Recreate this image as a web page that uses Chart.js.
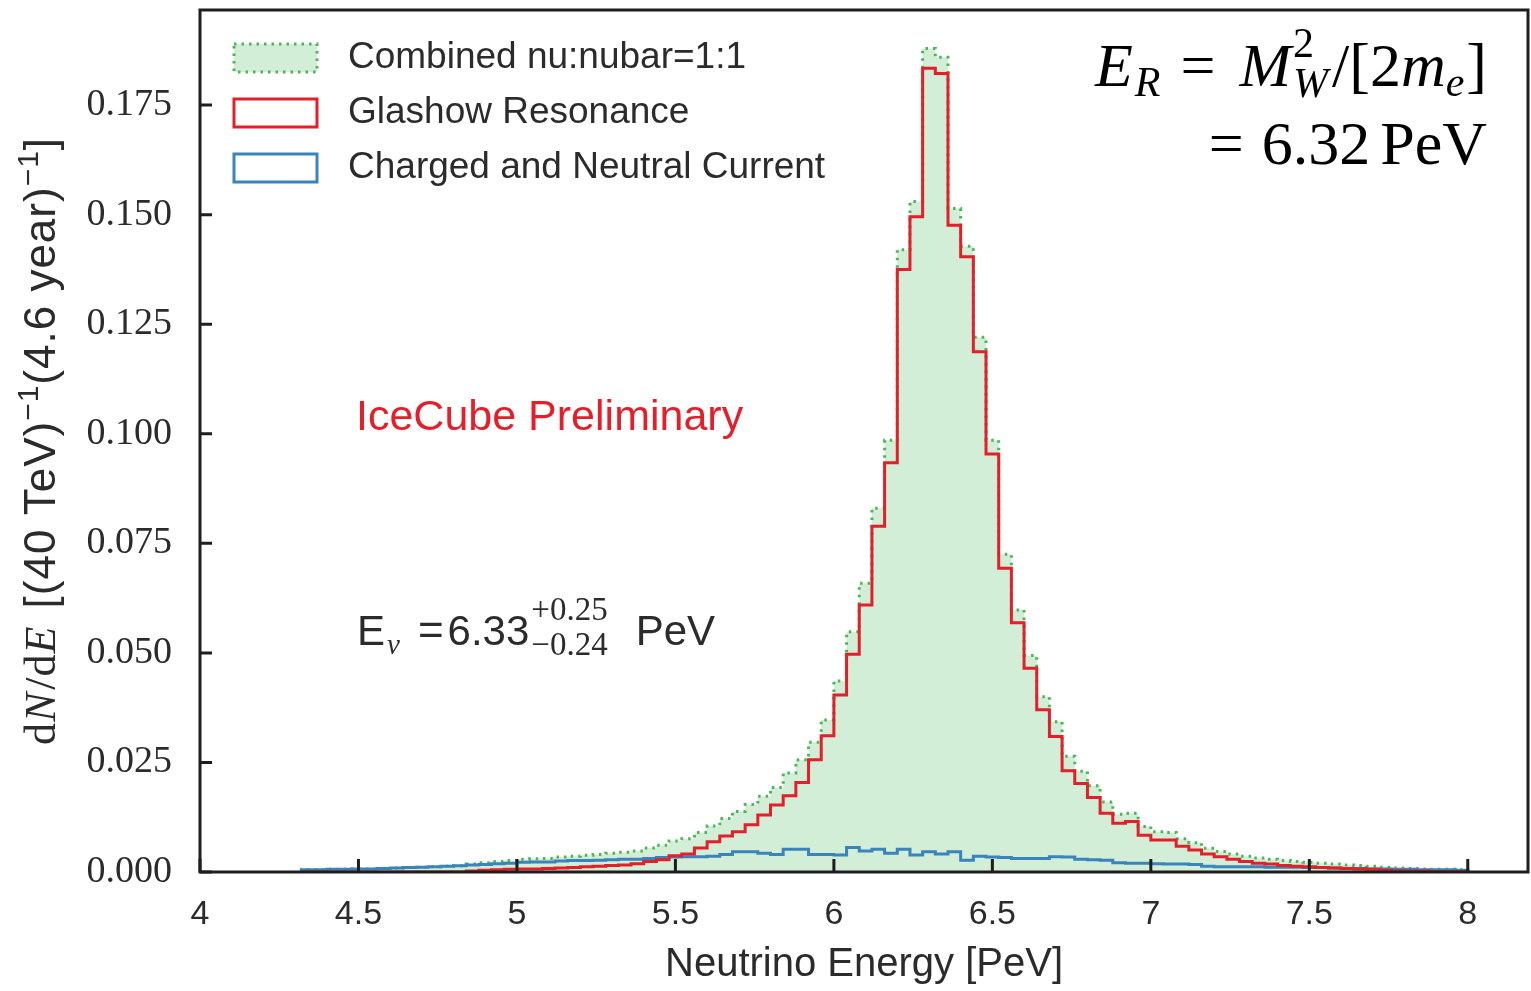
<!DOCTYPE html>
<html>
<head>
<meta charset="utf-8">
<script src="https://cdn.jsdelivr.net/npm/chart.js@4"></script>
<style>
  html, body { margin: 0; padding: 0; background: #ffffff; }
  #wrap { width: 1531px; height: 991px; }
</style>
</head>
<body>
<div id="wrap"><canvas id="c" width="1531" height="991"></canvas></div>
<script>
// ---------------- DATA ----------------
// histogram bin edges (PeV), 40 TeV bins
const binEdges = [
  4.32, 4.36, 4.40, 4.44, 4.48, 4.52, 4.56, 4.60, 4.64, 4.68,
  4.72, 4.76, 4.80, 4.84, 4.88, 4.92, 4.96, 5.00, 5.04, 5.08,
  5.12, 5.16, 5.20, 5.24, 5.28, 5.32, 5.36, 5.40, 5.44, 5.48,
  5.52, 5.56, 5.60, 5.64, 5.68, 5.72, 5.76, 5.80, 5.84, 5.88,
  5.92, 5.96, 6.00, 6.04, 6.08, 6.12, 6.16, 6.20, 6.24, 6.28,
  6.32, 6.36, 6.40, 6.44, 6.48, 6.52, 6.56, 6.60, 6.64, 6.68,
  6.72, 6.76, 6.80, 6.84, 6.88, 6.92, 6.96, 7.00, 7.04, 7.08,
  7.12, 7.16, 7.20, 7.24, 7.28, 7.32, 7.36, 7.40, 7.44, 7.48,
  7.52, 7.56, 7.60, 7.64, 7.68, 7.72, 7.76, 7.80, 7.84, 7.88,
  7.92, 7.96, 8.00
];

const combined = [
  0.0005, 0.0005, 0.0006, 0.0006, 0.0007, 0.0007, 0.0008, 0.0009, 0.0010, 0.0011,
  0.0012, 0.0013, 0.0014, 0.0018, 0.0021, 0.0024, 0.0026, 0.0029, 0.0030, 0.0031,
  0.0034, 0.0036, 0.0038, 0.0040, 0.0043, 0.0045, 0.0048, 0.0055, 0.0061, 0.0071,
  0.0076, 0.0090, 0.0105, 0.0122, 0.0138, 0.0154, 0.0173, 0.0193, 0.0226, 0.0256,
  0.0296, 0.0347, 0.0436, 0.0548, 0.0659, 0.0830, 0.0985, 0.1420, 0.1530, 0.1879,
  0.1859, 0.1514, 0.1428, 0.1220, 0.0985, 0.0725, 0.0598, 0.0494, 0.0400, 0.0343,
  0.0264, 0.0230, 0.0197, 0.0160, 0.0132, 0.0134, 0.0104, 0.0092, 0.0090, 0.0076,
  0.0067, 0.0054, 0.0047, 0.0041, 0.0036, 0.0032, 0.0029, 0.0026, 0.0024, 0.0022,
  0.0020, 0.0018, 0.0016, 0.0015, 0.0013, 0.0011, 0.0009, 0.0008, 0.0007, 0.0006,
  0.0006, 0.0005
];

const glashow = [
  0, 0, 0, 0, 0, 0, 0, 0, 0, 0,
  0, 0, 0, 0.0002, 0.0004, 0.0005, 0.0006, 0.0007, 0.0007, 0.0008,
  0.0009, 0.0010, 0.0012, 0.0013, 0.0015, 0.0016, 0.0019, 0.0024, 0.0028, 0.0037,
  0.0041, 0.0055, 0.0069, 0.0082, 0.0092, 0.0108, 0.0130, 0.0153, 0.0174, 0.0204,
  0.0256, 0.0311, 0.0404, 0.0497, 0.0609, 0.0789, 0.0934, 0.1375, 0.1495, 0.1834,
  0.1822, 0.1476, 0.1404, 0.1187, 0.0954, 0.0693, 0.0569, 0.0465, 0.0370, 0.0309,
  0.0231, 0.0202, 0.0170, 0.0134, 0.0111, 0.0115, 0.0084, 0.0073, 0.0073, 0.0059,
  0.0050, 0.0041, 0.0035, 0.0029, 0.0024, 0.0020, 0.0018, 0.0015, 0.0013, 0.0012,
  0.0010, 0.0009, 0.0008, 0.0007, 0.0006, 0.0004, 0.0003, 0.0002, 0.0002, 0.0001,
  0.0001, 0.0001
];

const chargedNeutral = [
  0.0005, 0.0005, 0.0006, 0.0006, 0.0007, 0.0007, 0.0008, 0.0009, 0.0010, 0.0011,
  0.0012, 0.0013, 0.0014, 0.0016, 0.0017, 0.0019, 0.0020, 0.0022, 0.0023, 0.0023,
  0.0025, 0.0026, 0.0026, 0.0027, 0.0028, 0.0029, 0.0029, 0.0031, 0.0033, 0.0034,
  0.0035, 0.0035, 0.0036, 0.0040, 0.0046, 0.0046, 0.0043, 0.0040, 0.0052, 0.0052,
  0.0040, 0.0040, 0.0039, 0.0056, 0.0048, 0.0052, 0.0043, 0.0052, 0.0039, 0.0046,
  0.0041, 0.0046, 0.0027, 0.0036, 0.0034, 0.0033, 0.0031, 0.0031, 0.0031, 0.0035,
  0.0034, 0.0029, 0.0028, 0.0027, 0.0021, 0.0020, 0.0020, 0.0019, 0.0018, 0.0018,
  0.0017, 0.0013, 0.0012, 0.0012, 0.0012, 0.0012, 0.0011, 0.0011, 0.0011, 0.0010,
  0.0010, 0.0009, 0.0008, 0.0008, 0.0007, 0.0007, 0.0006, 0.0006, 0.0005, 0.0005,
  0.0005, 0.0004
];

const seriesLabels = ['Combined nu:nubar=1:1', 'Glashow Resonance', 'Charged and Neutral Current'];

const xTickValues = [4, 4.5, 5, 5.5, 6, 6.5, 7, 7.5, 8];
const xTickLabels = ['4', '4.5', '5', '5.5', '6', '6.5', '7', '7.5', '8'];
const yTickValues = [0, 0.025, 0.05, 0.075, 0.1, 0.125, 0.15, 0.175];
const yTickLabels = ['0.000', '0.025', '0.050', '0.075', '0.100', '0.125', '0.150', '0.175'];

const xTitle = 'Neutrino Energy [PeV]';

// ---------------- STYLE ----------------
const GREEN_LINE = '#4cb556';
const GREEN_FILL = '#d3eed6';
const RED = '#e41f2a';
const BLUE = '#3a84bd';
const TEXT = '#2b2b2b';
const SANS = "'Liberation Sans', 'DejaVu Sans', sans-serif";
const SERIF = "'Liberation Serif', 'DejaVu Serif', serif";

// step-histogram points built from bin edges + bin values
function toSteps(values) {
  const pts = [{ x: binEdges[0], y: 0 }];
  values.forEach((v, i) => pts.push({ x: binEdges[i], y: v }));
  const n = values.length;
  pts.push({ x: binEdges[n], y: values[n - 1] });
  pts.push({ x: binEdges[n], y: 0 });
  return pts;
}

function labelFor(values, labels, v) {
  for (let i = 0; i < values.length; i++) if (Math.abs(values[i] - v) < 1e-9) return labels[i];
  return '';
}

function drawRuns(ctx, runs, x, baseline, align) {
  const widths = runs.map(r => {
    if (r.stack) {
      return Math.max(...r.stack.map(s => { ctx.font = s.font; return ctx.measureText(s.text).width; })) + (r.gap || 0);
    }
    ctx.font = r.font;
    return ctx.measureText(r.text).width + (r.gap || 0);
  });
  const total = widths.reduce((a, b) => a + b, 0);
  let cx = align === 'right' ? x - total : (align === 'center' ? x - total / 2 : x);
  ctx.textAlign = 'left';
  ctx.textBaseline = 'alphabetic';
  runs.forEach((r, i) => {
    if (r.stack) {
      r.stack.forEach(s => { ctx.font = s.font; ctx.fillText(s.text, cx, baseline + (s.dy || 0)); });
    } else {
      ctx.font = r.font;
      ctx.fillText(r.text, cx, baseline + (r.dy || 0));
    }
    cx += widths[i];
  });
}

const bgPlugin = {
  id: 'bg',
  beforeDraw(chart) {
    const ctx = chart.ctx;
    ctx.save();
    ctx.fillStyle = '#ffffff';
    ctx.fillRect(0, 0, chart.width, chart.height);
    ctx.restore();
  }
};

const framePlugin = {
  id: 'frame',
  afterDatasetsDraw(chart) {
    const ctx = chart.ctx;
    const { left, right, top, bottom } = chart.chartArea;
    const xs = chart.scales.x, ys = chart.scales.y;
    ctx.save();
    ctx.strokeStyle = '#1e1e1e';
    ctx.lineWidth = 3;
    ctx.setLineDash([]);
    ctx.strokeRect(left, top, right - left, bottom - top);
    ctx.beginPath();
    xTickValues.forEach(v => {
      const px = xs.getPixelForValue(v);
      ctx.moveTo(px, bottom);
      ctx.lineTo(px, bottom - 13);
    });
    yTickValues.forEach(v => {
      const py = ys.getPixelForValue(v);
      ctx.moveTo(left, py);
      ctx.lineTo(left + 12, py);
    });
    ctx.stroke();
    ctx.restore();
  }
};

const annotPlugin = {
  id: 'annot',
  afterDraw(chart) {
    const ctx = chart.ctx;
    const area = chart.chartArea;
    ctx.save();

    // legend
    const rows = [58, 113, 168];
    const patchX = 234, patchW = 83, patchH = 28, textX = 348;
    chart.data.datasets.forEach((ds) => {
      const cy = rows[ds.legendIndex];
      ctx.setLineDash([]);
      if (ds.fill) {
        ctx.fillStyle = GREEN_FILL;
        ctx.fillRect(patchX, cy - patchH / 2, patchW, patchH);
        ctx.setLineDash([2.5, 5]);
      }
      ctx.strokeStyle = ds.borderColor;
      ctx.lineWidth = 3;
      ctx.strokeRect(patchX, cy - patchH / 2, patchW, patchH);
      ctx.setLineDash([]);
      ctx.fillStyle = TEXT;
      ctx.font = '37px ' + SANS;
      ctx.textAlign = 'left';
      ctx.textBaseline = 'middle';
      ctx.fillText(ds.label, textX, cy);
    });

    // IceCube Preliminary
    ctx.fillStyle = RED;
    ctx.font = '43px ' + SANS;
    ctx.textAlign = 'left';
    ctx.textBaseline = 'middle';
    ctx.fillText('IceCube Preliminary', 356, 418);

    // E_nu = 6.33 +0.25 -0.24 PeV
    ctx.fillStyle = TEXT;
    drawRuns(ctx, [
      { text: 'E', font: '42px ' + SANS, gap: 2 },
      { text: '\u03BD', font: 'italic 29px ' + SERIF, dy: 9, gap: 18 },
      { text: '=', font: '44px ' + SANS, gap: 4 },
      { text: '6.33', font: '42px ' + SANS, gap: 2 },
      { stack: [
          { text: '+0.25', font: '33px ' + SERIF, dy: -25 },
          { text: '\u22120.24', font: '33px ' + SERIF, dy: 10 }
        ], gap: 28 },
      { text: 'PeV', font: '42px ' + SANS }
    ], 357, 645, 'left');

    // E_R = M_W^2/[2 m_e] = 6.32 PeV
    ctx.fillStyle = '#000000';
    const big = 62, small = 42;
    drawRuns(ctx, [
      { text: 'E', font: 'italic ' + big + 'px ' + SERIF, gap: 2 },
      { text: 'R', font: 'italic ' + small + 'px ' + SERIF, dy: 10, gap: 20 },
      { text: '=', font: big + 'px ' + SERIF, gap: 24 },
      { text: 'M', font: 'italic ' + big + 'px ' + SERIF, gap: 2 },
      { stack: [
          { text: '2', font: small + 'px ' + SERIF, dy: -29 },
          { text: 'W', font: 'italic ' + small + 'px ' + SERIF, dy: 11 }
        ], gap: 4 },
      { text: '/[2', font: big + 'px ' + SERIF },
      { text: 'm', font: 'italic ' + big + 'px ' + SERIF },
      { text: 'e', font: 'italic ' + small + 'px ' + SERIF, dy: 10, gap: 2 },
      { text: ']', font: big + 'px ' + SERIF }
    ], 1487, 86, 'right');
    drawRuns(ctx, [
      { text: '=', font: big + 'px ' + SERIF, gap: 18 },
      { text: '6.32', font: big + 'px ' + SERIF, gap: 10 },
      { text: 'PeV', font: big + 'px ' + SERIF }
    ], 1487, 164, 'right');

    // y-axis title: dN/dE [(40 TeV)^-1 (4.6 year)^-1]
    ctx.save();
    ctx.translate(40, (area.top + area.bottom) / 2);
    ctx.rotate(-Math.PI / 2);
    try { ctx.letterSpacing = '1px'; } catch (e) {}
    ctx.fillStyle = TEXT;
    drawRuns(ctx, [
      { text: 'd', font: '44px ' + SERIF },
      { text: 'N', font: 'italic 44px ' + SERIF, gap: 2 },
      { text: '/d', font: '44px ' + SERIF },
      { text: 'E', font: 'italic 44px ' + SERIF, gap: 4 },
      { text: ' [(40 TeV)', font: '44px ' + SANS },
      { text: '\u22121', font: '30px ' + SANS, dy: -17 },
      { text: '(4.6 year)', font: '44px ' + SANS },
      { text: '\u22121', font: '30px ' + SANS, dy: -17 },
      { text: ']', font: '44px ' + SANS }
    ], 0, 15, 'center');
    ctx.restore();

    ctx.restore();
  }
};

Chart.defaults.font.family = SANS;
Chart.defaults.color = TEXT;

new Chart(document.getElementById('c'), {
  type: 'line',
  data: {
    datasets: [
      {
        label: seriesLabels[1],
        legendIndex: 1,
        data: toSteps(glashow),
        stepped: 'before',
        borderColor: RED,
        borderWidth: 3,
        pointRadius: 0,
        fill: false,
        order: 0
      },
      {
        label: seriesLabels[2],
        legendIndex: 2,
        data: toSteps(chargedNeutral),
        stepped: 'before',
        borderColor: BLUE,
        borderWidth: 3,
        pointRadius: 0,
        fill: false,
        order: 1
      },
      {
        label: seriesLabels[0],
        legendIndex: 0,
        data: toSteps(combined),
        stepped: 'before',
        borderColor: GREEN_LINE,
        borderWidth: 3,
        borderDash: [2.5, 5],
        backgroundColor: GREEN_FILL,
        pointRadius: 0,
        fill: 'origin',
        order: 2
      }
    ]
  },
  options: {
    responsive: false,
    animation: false,
    devicePixelRatio: 1,
    layout: { padding: { top: 10, right: 3, left: 0, bottom: 0 } },
    plugins: {
      legend: { display: false },
      tooltip: { enabled: false },
      title: { display: false }
    },
    scales: {
      x: {
        type: 'linear',
        min: 4,
        max: 8.19,
        afterBuildTicks: s => { s.ticks = xTickValues.map(v => ({ value: v })); },
        afterFit: s => { s.height = 119; s.paddingLeft = 0; s.paddingRight = 0; },
        grid: { display: false, drawTicks: false },
        border: { display: false },
        ticks: {
          autoSkip: false,
          maxRotation: 0,
          padding: 22,
          color: TEXT,
          font: { family: SANS, size: 34 },
          callback: v => labelFor(xTickValues, xTickLabels, v)
        },
        title: {
          display: true,
          text: xTitle,
          color: TEXT,
          font: { family: SANS, size: 40 },
          padding: { top: 0, bottom: 2 }
        }
      },
      y: {
        type: 'linear',
        min: 0,
        max: 0.1967,
        afterBuildTicks: s => { s.ticks = yTickValues.map(v => ({ value: v })); },
        afterFit: s => { s.width = 200; s.paddingTop = 0; s.paddingBottom = 0; },
        grid: { display: false, drawTicks: false },
        border: { display: false },
        ticks: {
          autoSkip: false,
          padding: 28,
          color: TEXT,
          font: { family: SERIF, size: 38 },
          callback: v => labelFor(yTickValues, yTickLabels, v)
        },
        title: { display: false }
      }
    }
  },
  plugins: [bgPlugin, framePlugin, annotPlugin]
});
</script>
</body>
</html>
